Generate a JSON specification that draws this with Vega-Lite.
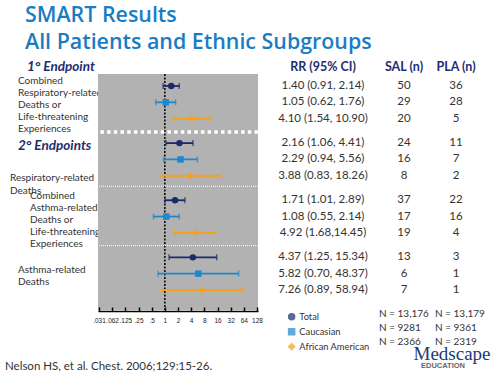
{
  "$schema": "https://vega.github.io/schema/vega-lite/v6.json",
  "background": "white",
  "padding": {"left": 5, "top": 4, "right": 5, "bottom": 2},
  "title": {"text": ["SMART Results", "All Patients and Ethnic Subgroups"], "anchor": "start", "frame": "bounds", "font": "Open Sans", "fontSize": 21.4, "fontWeight": 600, "color": "#1a7dc4", "lineHeight": 27, "offset": 7, "dx": 20},
  "datasets": {
    "rows": [
      {"outcome": "Combined respiratory-related deaths or life-threatening experiences", "subgroup": "Total", "slot": 1, "rr": 1.40, "lo": 0.91, "hi": 2.14, "ci": "1.40 (0.91, 2.14)", "sal": 50, "pla": 36},
      {"outcome": "Combined respiratory-related deaths or life-threatening experiences", "subgroup": "Caucasian", "slot": 2, "rr": 1.05, "lo": 0.62, "hi": 1.76, "ci": "1.05 (0.62, 1.76)", "sal": 29, "pla": 28},
      {"outcome": "Combined respiratory-related deaths or life-threatening experiences", "subgroup": "African American", "slot": 3, "rr": 4.10, "lo": 1.54, "hi": 10.90, "ci": "4.10 (1.54, 10.90)", "sal": 20, "pla": 5},
      {"outcome": "Respiratory-related deaths", "subgroup": "Total", "slot": 4.5, "rr": 2.16, "lo": 1.06, "hi": 4.41, "ci": "2.16 (1.06, 4.41)", "sal": 24, "pla": 11},
      {"outcome": "Respiratory-related deaths", "subgroup": "Caucasian", "slot": 5.5, "rr": 2.29, "lo": 0.94, "hi": 5.56, "ci": "2.29 (0.94, 5.56)", "sal": 16, "pla": 7},
      {"outcome": "Respiratory-related deaths", "subgroup": "African American", "slot": 6.5, "rr": 3.88, "lo": 0.83, "hi": 18.26, "ci": "3.88 (0.83, 18.26)", "sal": 8, "pla": 2},
      {"outcome": "Combined asthma-related deaths or life-threatening experiences", "subgroup": "Total", "slot": 8, "rr": 1.71, "lo": 1.01, "hi": 2.89, "ci": "1.71 (1.01, 2.89)", "sal": 37, "pla": 22},
      {"outcome": "Combined asthma-related deaths or life-threatening experiences", "subgroup": "Caucasian", "slot": 9, "rr": 1.08, "lo": 0.55, "hi": 2.14, "ci": "1.08 (0.55, 2.14)", "sal": 17, "pla": 16},
      {"outcome": "Combined asthma-related deaths or life-threatening experiences", "subgroup": "African American", "slot": 10, "rr": 4.92, "lo": 1.68, "hi": 14.45, "ci": "4.92 (1.68,14.45)", "sal": 19, "pla": 4},
      {"outcome": "Asthma-related deaths", "subgroup": "Total", "slot": 11.5, "rr": 4.37, "lo": 1.25, "hi": 15.34, "ci": "4.37 (1.25, 15.34)", "sal": 13, "pla": 3},
      {"outcome": "Asthma-related deaths", "subgroup": "Caucasian", "slot": 12.5, "rr": 5.82, "lo": 0.70, "hi": 48.37, "ci": "5.82 (0.70, 48.37)", "sal": 6, "pla": 1},
      {"outcome": "Asthma-related deaths", "subgroup": "African American", "slot": 13.5, "rr": 7.26, "lo": 0.89, "hi": 58.94, "ci": "7.26 (0.89, 58.94)", "sal": 7, "pla": 1}
    ],
    "legendN": [
      {"subgroup": "Total", "slot": 15, "n_sal": "N = 13,176", "n_pla": "N = 13,179"},
      {"subgroup": "Caucasian", "slot": 15.8, "n_sal": "N = 9281", "n_pla": "N = 9361"},
      {"subgroup": "African American", "slot": 16.7, "n_sal": "N = 2366", "n_pla": "N = 2319"}
    ]
  },
  "spacing": 0,
  "bounds": "flush",
  "resolve": {"legend": {"color": "independent", "shape": "independent"}},
  "hconcat": [
    {
      "width": 93, "height": 236,
      "layer": [
        {"data": {"values": [{}]}, "mark": {"type": "text", "align": "left", "baseline": "middle", "font": "Lato", "fontSize": 13.5, "fontStyle": "italic", "fontWeight": "bold", "color": "#1f2d6e", "dx": -24.5, "text": "1° Endpoint"},
         "encoding": {"y": {"datum": -0.16, "type": "quantitative", "scale": {"domain": [0.265, 14.725], "nice": false, "zero": false, "reverse": true}, "axis": null}}},
        {"data": {"values": [{}]}, "mark": {"type": "text", "align": "left", "baseline": "middle", "font": "Lato", "fontSize": 13.5, "fontStyle": "italic", "fontWeight": "bold", "color": "#1f2d6e", "dx": -33.5, "text": "2° Endpoints"},
         "encoding": {"y": {"datum": 4.7, "type": "quantitative", "scale": {"domain": [0.265, 14.725], "nice": false, "zero": false, "reverse": true}, "axis": null}}},
        {"data": {"values": [{}]}, "mark": {"type": "text", "align": "left", "baseline": "middle", "font": "Lato", "fontSize": 10, "color": "#333333", "lineBreak": "\n", "lineHeight": 12, "dx": -33.5, "text": "Combined\nRespiratory-related\nDeaths or\nLife-threatening\nExperiences"},
         "encoding": {"y": {"datum": 0.69, "type": "quantitative", "scale": {"domain": [0.265, 14.725], "nice": false, "zero": false, "reverse": true}, "axis": null}}},
        {"data": {"values": [{}]}, "mark": {"type": "text", "align": "left", "baseline": "middle", "font": "Lato", "fontSize": 10, "color": "#333333", "lineBreak": "\n", "lineHeight": 12.5, "dx": -41.5, "text": "Respiratory-related\nDeaths"},
         "encoding": {"y": {"datum": 6.64, "type": "quantitative", "scale": {"domain": [0.265, 14.725], "nice": false, "zero": false, "reverse": true}, "axis": null}}},
        {"data": {"values": [{}]}, "mark": {"type": "text", "align": "left", "baseline": "middle", "font": "Lato", "fontSize": 10, "color": "#333333", "lineBreak": "\n", "lineHeight": 12, "dx": -21.5, "text": "Combined\nAsthma-related\nDeaths or\nLife-threatening\nExperiences"},
         "encoding": {"y": {"datum": 7.74, "type": "quantitative", "scale": {"domain": [0.265, 14.725], "nice": false, "zero": false, "reverse": true}, "axis": null}}},
        {"data": {"values": [{}]}, "mark": {"type": "text", "align": "left", "baseline": "middle", "font": "Lato", "fontSize": 10, "color": "#333333", "lineBreak": "\n", "lineHeight": 12, "dx": -33.5, "text": "Asthma-related\nDeaths"},
         "encoding": {"y": {"datum": 12.27, "type": "quantitative", "scale": {"domain": [0.265, 14.725], "nice": false, "zero": false, "reverse": true}, "axis": null}}},
        {"data": {"values": [{}]}, "mark": {"type": "text", "align": "left", "baseline": "middle", "font": "Lato", "fontSize": 11.5, "color": "#333333", "dx": -46.5, "text": "Nelson HS, et al. Chest. 2006;129:15-26."},
         "encoding": {"y": {"datum": 18.2, "type": "quantitative", "scale": {"domain": [0.265, 14.725], "nice": false, "zero": false, "reverse": true}, "axis": null}}}
      ]
    },
    {
      "width": 160, "height": 236,
      "view": {"fill": "#b2b2b2", "stroke": null},
      "layer": [
        {"data": {"values": [{}]}, "mark": {"type": "rule", "color": "black", "strokeWidth": 1.5, "strokeDash": [2, 1.5]},
         "encoding": {"x": {"datum": 1, "type": "quantitative", "scale": {"type": "log", "base": 2, "domain": [0.03125, 128], "padding": 1},
           "axis": {"values": [0.03125, 0.0625, 0.125, 0.25, 0.5, 1, 2, 4, 8, 16, 32, 64, 128], "format": "d", "labelExpr": "datum.value < 0.04 ? '.031' : datum.value < 0.07 ? '.062' : datum.value < 0.2 ? '.125' : datum.value < 0.3 ? '.25' : datum.value < 0.6 ? '.5' : datum.label", "title": null, "grid": false, "domainColor": "black", "domainWidth": 1.5, "tickColor": "black", "tickWidth": 1.5, "tickSize": -4, "labelFontSize": 6.5, "labelFont": "Liberation Sans", "labelColor": "#222222", "labelPadding": 10, "offset": 1, "labelFlush": false, "labelOverlap": false}}}},
        {"data": {"values": [{}]}, "mark": {"type": "rule", "color": "white", "strokeWidth": 3.5, "strokeDash": [3.5, 3.2]},
         "encoding": {"y": {"datum": 3.82, "type": "quantitative", "scale": {"domain": [0.265, 14.725], "nice": false, "zero": false, "reverse": true}, "axis": null}}},
        {"data": {"values": [{"sep": 7.14}, {"sep": 10.78}]}, "mark": {"type": "rule", "color": "white", "strokeWidth": 1, "strokeDash": [1, 1]},
         "encoding": {"y": {"field": "sep", "type": "quantitative", "scale": {"domain": [0.265, 14.725], "nice": false, "zero": false, "reverse": true}, "axis": null}}},
        {"data": {"name": "rows"}, "mark": {"type": "rule", "strokeWidth": 1.8},
         "encoding": {
           "x": {"field": "lo", "type": "quantitative", "scale": {"type": "log", "base": 2, "domain": [0.03125, 128], "padding": 1}},
           "x2": {"field": "hi"},
           "y": {"field": "slot", "type": "quantitative", "scale": {"domain": [0.265, 14.725], "nice": false, "zero": false, "reverse": true}, "axis": null},
           "color": {"field": "subgroup", "type": "nominal", "scale": {"domain": ["Total", "Caucasian", "African American"], "range": ["#1b2a68", "#1f88cc", "#f5a01c"]}, "legend": {"orient": "none", "legendX": 189, "legendY": 238, "title": null, "direction": "vertical", "symbolSize": 36, "labelFontSize": 9.3, "labelFont": "Lato", "labelColor": "#333333", "rowPadding": 2, "padding": 0, "labelOffset": 3}}}},
        {"data": {"name": "rows"}, "mark": {"type": "tick", "orient": "vertical", "size": 6, "thickness": 1.5},
         "encoding": {
           "x": {"field": "lo", "type": "quantitative", "scale": {"type": "log", "base": 2, "domain": [0.03125, 128], "padding": 1}},
           "y": {"field": "slot", "type": "quantitative", "scale": {"domain": [0.265, 14.725], "nice": false, "zero": false, "reverse": true}, "axis": null},
           "color": {"field": "subgroup", "type": "nominal", "legend": {"orient": "none", "legendX": 189, "legendY": 238, "title": null, "direction": "vertical", "symbolSize": 36, "labelFontSize": 9.3, "labelFont": "Lato", "labelColor": "#333333", "rowPadding": 2, "padding": 0, "labelOffset": 3}}}},
        {"data": {"name": "rows"}, "mark": {"type": "tick", "orient": "vertical", "size": 6, "thickness": 1.5},
         "encoding": {
           "x": {"field": "hi", "type": "quantitative", "scale": {"type": "log", "base": 2, "domain": [0.03125, 128], "padding": 1}},
           "y": {"field": "slot", "type": "quantitative", "scale": {"domain": [0.265, 14.725], "nice": false, "zero": false, "reverse": true}, "axis": null},
           "color": {"field": "subgroup", "type": "nominal", "legend": {"orient": "none", "legendX": 189, "legendY": 238, "title": null, "direction": "vertical", "symbolSize": 36, "labelFontSize": 9.3, "labelFont": "Lato", "labelColor": "#333333", "rowPadding": 2, "padding": 0, "labelOffset": 3}}}},
        {"data": {"name": "rows"}, "mark": {"type": "point", "filled": true, "size": 42, "opacity": 1},
         "encoding": {
           "x": {"field": "rr", "type": "quantitative", "scale": {"type": "log", "base": 2, "domain": [0.03125, 128], "padding": 1}},
           "y": {"field": "slot", "type": "quantitative", "scale": {"domain": [0.265, 14.725], "nice": false, "zero": false, "reverse": true}, "axis": null},
           "color": {"field": "subgroup", "type": "nominal", "legend": {"orient": "none", "legendX": 189, "legendY": 238, "title": null, "direction": "vertical", "symbolSize": 36, "labelFontSize": 9.3, "labelFont": "Lato", "labelColor": "#333333", "rowPadding": 2, "padding": 0, "labelOffset": 3}},
           "shape": {"field": "subgroup", "type": "nominal", "scale": {"domain": ["Total", "Caucasian", "African American"], "range": ["circle", "square", "diamond"]}, "legend": {"orient": "none", "legendX": 189, "legendY": 238, "title": null, "direction": "vertical", "symbolSize": 36, "labelFontSize": 9.3, "labelFont": "Lato", "labelColor": "#333333", "rowPadding": 2, "padding": 0, "labelOffset": 3}}}}
      ]
    },
    {
      "width": 130, "height": 236,
      "title": {"text": "RR (95% CI)", "font": "Lato", "fontSize": 12.5, "fontWeight": "bold", "color": "#1f2d6e", "offset": 1, "anchor": "middle", "frame": "group"},
      "data": {"name": "rows"},
      "mark": {"type": "text", "font": "Lato", "fontSize": 11.5, "color": "#333333", "baseline": "middle"},
      "encoding": {
        "y": {"field": "slot", "type": "quantitative", "scale": {"domain": [0.265, 14.725], "nice": false, "zero": false, "reverse": true}, "axis": null},
        "text": {"field": "ci"}}
    },
    {
      "width": 32, "height": 236,
      "title": {"text": "SAL (n)", "font": "Lato", "fontSize": 12.5, "fontWeight": "bold", "color": "#1f2d6e", "offset": 1, "anchor": "middle", "frame": "group"},
      "layer": [
        {"data": {"name": "rows"}, "mark": {"type": "text", "font": "Lato", "fontSize": 11.5, "color": "#333333", "baseline": "middle"},
         "encoding": {
           "y": {"field": "slot", "type": "quantitative", "scale": {"domain": [0.265, 14.725], "nice": false, "zero": false, "reverse": true}, "axis": null},
           "text": {"field": "sal"}}},
        {"data": {"name": "legendN"}, "mark": {"type": "text", "font": "Lato", "fontSize": 10, "color": "#333333", "baseline": "middle", "align": "left", "dx": -25},
         "encoding": {
           "y": {"field": "slot", "type": "quantitative", "scale": {"domain": [0.265, 14.725], "nice": false, "zero": false, "reverse": true}, "axis": null},
           "text": {"field": "n_sal"}}}
      ]
    },
    {
      "width": 72, "height": 236,
      "title": {"text": "PLA (n)", "font": "Lato", "fontSize": 12.5, "fontWeight": "bold", "color": "#1f2d6e", "offset": 1, "anchor": "middle", "frame": "group"},
      "layer": [
        {"data": {"name": "rows"}, "mark": {"type": "text", "font": "Lato", "fontSize": 11.5, "color": "#333333", "baseline": "middle"},
         "encoding": {
           "y": {"field": "slot", "type": "quantitative", "scale": {"domain": [0.265, 14.725], "nice": false, "zero": false, "reverse": true}, "axis": null},
           "text": {"field": "pla"}}},
        {"data": {"name": "legendN"}, "mark": {"type": "text", "font": "Lato", "fontSize": 10, "color": "#333333", "baseline": "middle", "align": "left", "dx": -21},
         "encoding": {
           "y": {"field": "slot", "type": "quantitative", "scale": {"domain": [0.265, 14.725], "nice": false, "zero": false, "reverse": true}, "axis": null},
           "text": {"field": "n_pla"}}},
        {"data": {"values": [{}]}, "mark": {"type": "text", "font": "Liberation Serif", "fontSize": 19, "color": "#1e3a70", "baseline": "alphabetic", "dx": -4, "text": "Medscape"},
         "encoding": {"y": {"datum": 17.8, "type": "quantitative", "scale": {"domain": [0.265, 14.725], "nice": false, "zero": false, "reverse": true}, "axis": null}}},
        {"data": {"values": [{}]}, "mark": {"type": "text", "font": "Liberation Sans", "fontSize": 7.5, "fontWeight": "bold", "color": "#666666", "baseline": "alphabetic", "dx": -13, "text": "EDUCATION"},
         "encoding": {"y": {"datum": 18.3, "type": "quantitative", "scale": {"domain": [0.265, 14.725], "nice": false, "zero": false, "reverse": true}, "axis": null}}}
      ]
    }
  ],
  "config": {"view": {"stroke": null}, "text": {"font": "Lato"}}
}
